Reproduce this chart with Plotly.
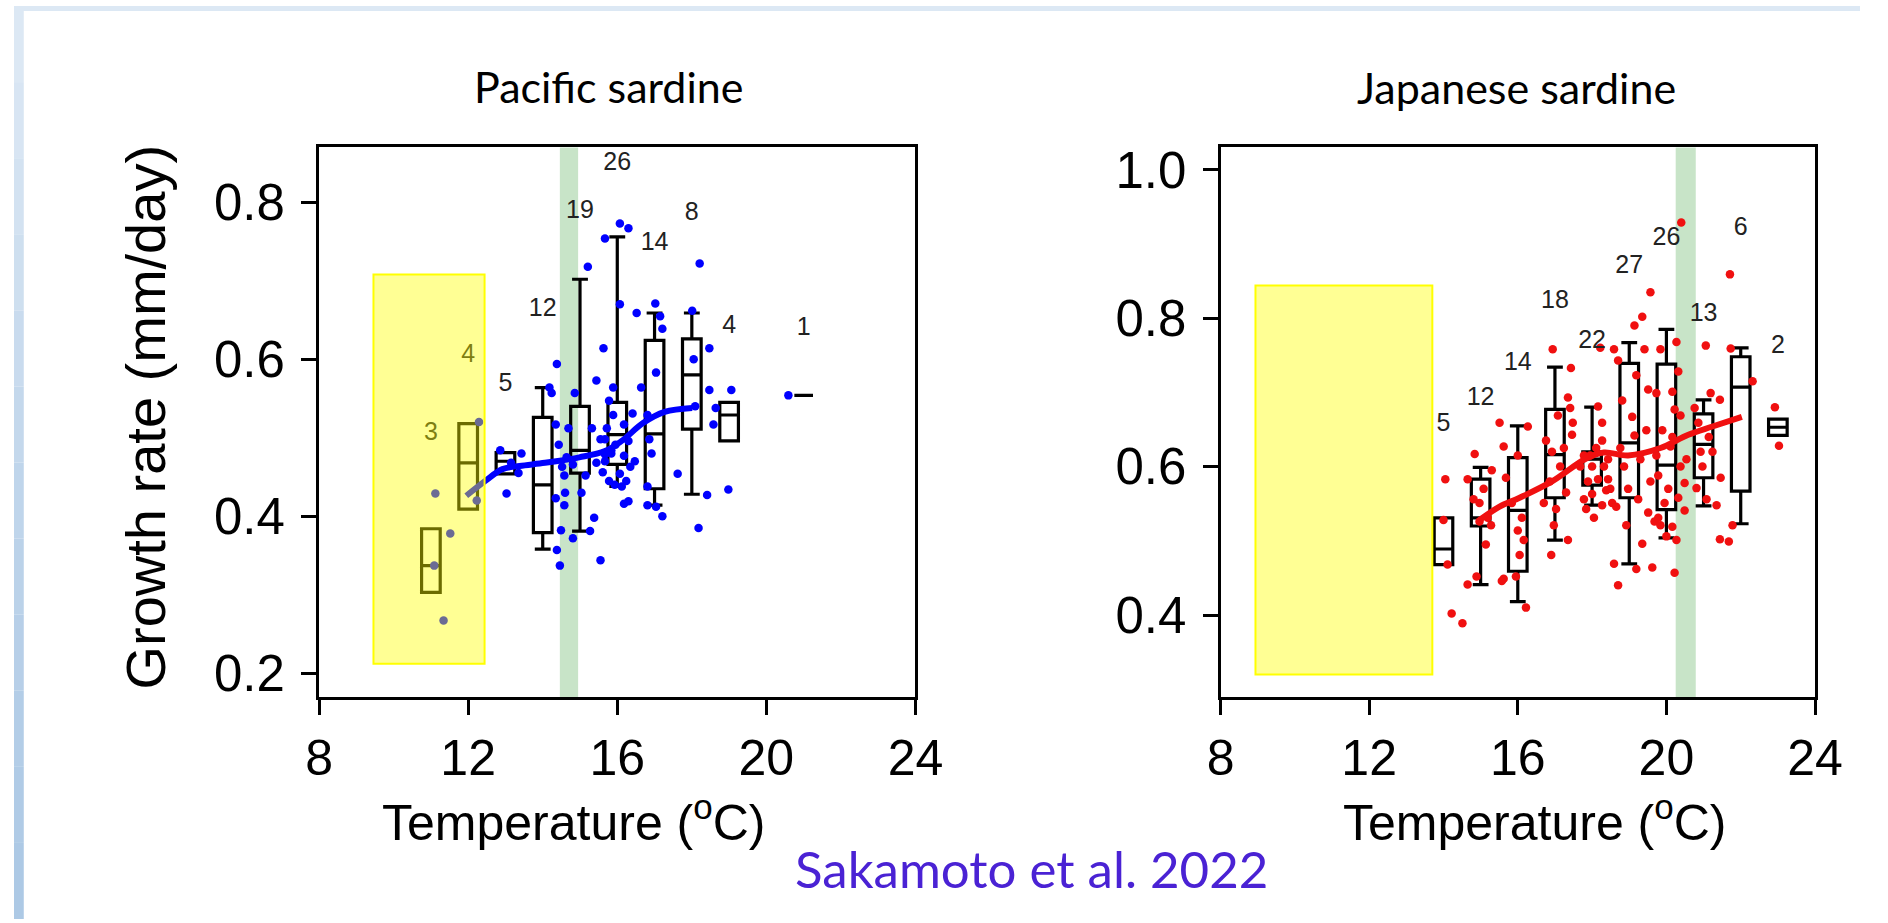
import plotly.graph_objects as go

W, H = 1888, 923

# ---------------- Pacific sardine (left) ----------------
box_x_p = [11, 12, 13, 14, 15, 16, 17, 18, 19, 21]
q1_p = [0.303, 0.409, 0.454, 0.379, 0.455, 0.466, 0.435, 0.511, 0.496, 0.554]
med_p = [0.337, 0.468, 0.470, 0.440, 0.484, 0.504, 0.505, 0.580, 0.529, 0.554]
q3_p = [0.384, 0.518, 0.481, 0.526, 0.540, 0.545, 0.624, 0.626, 0.545, 0.554]
lo_p = [0.303, 0.409, 0.454, 0.358, 0.381, 0.438, 0.414, 0.428, 0.496, 0.554]
hi_p = [0.384, 0.518, 0.481, 0.564, 0.702, 0.756, 0.659, 0.659, 0.545, 0.554]
n_p = ["3", "4", "5", "12", "19", "26", "14", "8", "4", "1"]
n_y_p = [0.505, 0.604, 0.567, 0.663, 0.788, 0.849, 0.747, 0.786, 0.641, 0.639]

pts_x_p = [
    11.12, 11.52, 11.34, 11.09,
    12.29, 12.23,
    12.86, 13.03, 13.43, 13.35, 13.15,
    14.18, 14.24, 14.38, 14.35, 14.43, 14.52, 14.58, 14.60, 14.35, 14.49, 14.38, 14.46,
    15.21, 15.63, 15.44, 14.86, 14.81, 15.38, 15.55, 15.27, 14.58, 14.69, 15.32, 15.55,
    15.67, 14.64, 14.81, 15.44, 15.15, 15.61, 15.04,
    16.07, 16.30, 15.67, 16.07, 15.89, 15.78, 15.89, 15.72, 16.18, 16.41, 15.67, 15.95,
    16.30, 15.84, 16.18, 15.67, 16.35, 16.07, 15.78, 16.24, 15.93, 16.12, 16.30, 15.84,
    16.47, 16.18,
    17.02, 16.52, 17.15, 17.21, 17.04, 16.64, 16.81, 16.86, 16.92, 16.81, 17.62, 17.04,
    17.21, 16.81,
    18.21, 18.47, 18.05, 18.47, 18.41, 18.18, 18.09, 18.01,
    19.06, 18.64, 18.58, 18.98,
    20.59,
]
pts_y_p = [
    0.429, 0.378, 0.267, 0.337,
    0.520, 0.420,
    0.484, 0.429, 0.480, 0.455, 0.468,
    0.564, 0.557, 0.594, 0.517, 0.491, 0.463, 0.452, 0.430, 0.423, 0.382, 0.357, 0.337,
    0.718, 0.614, 0.573, 0.557, 0.372, 0.398, 0.344, 0.381, 0.414, 0.512, 0.512, 0.498,
    0.479, 0.475, 0.466, 0.468, 0.452, 0.456, 0.430,
    0.773, 0.767, 0.754, 0.670, 0.564, 0.547, 0.529, 0.512, 0.517, 0.531, 0.498, 0.491,
    0.496, 0.480, 0.477, 0.470, 0.463, 0.454, 0.445, 0.445, 0.440, 0.438, 0.419, 0.484,
    0.470, 0.416,
    0.671, 0.659, 0.655, 0.639, 0.583, 0.564, 0.529, 0.498, 0.480, 0.438, 0.454, 0.412,
    0.400, 0.414,
    0.722, 0.614, 0.600, 0.561, 0.427, 0.385, 0.540, 0.662,
    0.561, 0.538, 0.517, 0.434,
    0.554,
]
fit_x_p = [11.95, 12.46, 12.92, 13.38, 14.06, 14.98, 15.67, 16.12, 16.70, 17.27, 18.01]
fit_y_p = [0.426, 0.445, 0.460, 0.464, 0.468, 0.475, 0.483, 0.496, 0.519, 0.533, 0.538]
yellow_x_p = [9.46, 12.44]
yellow_y_p = [0.212, 0.708]
green_x_p = [14.46, 14.95]

# ---------------- Japanese sardine (right) ----------------
box_x_j = [14, 15, 16, 17, 18, 19, 20, 21, 22, 23]
q1_j = [0.468, 0.520, 0.459, 0.558, 0.575, 0.558, 0.542, 0.585, 0.567, 0.642]
med_j = [0.489, 0.531, 0.541, 0.616, 0.610, 0.632, 0.602, 0.630, 0.707, 0.653]
q3_j = [0.531, 0.583, 0.612, 0.677, 0.620, 0.739, 0.738, 0.671, 0.748, 0.664]
lo_j = [0.468, 0.441, 0.418, 0.501, 0.548, 0.469, 0.504, 0.547, 0.523, 0.642]
hi_j = [0.531, 0.599, 0.655, 0.734, 0.680, 0.767, 0.785, 0.690, 0.760, 0.664]
n_j = ["5", "12", "14", "18", "22", "27", "26", "13", "6", "2"]
n_y_j = [0.657, 0.691, 0.739, 0.822, 0.768, 0.869, 0.907, 0.805, 0.920, 0.762]

pts_x_j = [
    14.05, 14.22, 14.51, 14.11, 14.00,
    14.84, 14.65, 14.65, 14.97, 15.14, 15.28, 14.97, 15.19, 14.81, 15.08, 15.30, 14.89,
    15.51, 16.27, 15.62, 16.00, 15.68, 16.11, 16.00, 16.05, 15.95, 15.62, 15.57, 16.22,
    15.84, 16.16,
    16.94, 17.43, 17.35, 17.41, 17.48, 17.46, 16.76, 16.92, 16.86, 17.03, 17.35, 16.90,
    17.14, 17.30, 16.70, 17.08, 17.24, 16.97,
    18.22, 18.16, 18.27, 17.78, 18.00, 18.16, 18.38, 18.05, 17.84, 18.27, 18.49, 17.89,
    18.32, 18.43, 17.68, 18.00, 18.54, 18.11, 17.78, 18.27, 18.43, 17.95,
    19.57, 19.35, 19.14, 18.59, 18.70, 19.19, 19.51, 18.81, 19.08, 19.14, 18.76, 18.97,
    19.35, 18.59, 18.70, 19.19, 19.62, 19.51, 19.68, 19.57, 19.30, 18.86, 19.46, 18.65,
    19.24, 18.92, 19.41,
    20.40, 20.27, 20.16, 20.22, 20.16, 20.54, 20.49, 19.78, 20.22, 19.84, 19.78, 20.16,
    19.95, 20.32, 20.05, 19.73, 20.38, 19.89, 20.32, 19.84, 20.49, 20.00, 20.27, 19.73,
    20.38, 20.11,
    21.06, 21.44, 21.14, 20.81, 21.46, 20.86, 20.97, 21.24, 20.76, 21.08, 21.35, 20.92,
    21.19,
    21.71, 21.73, 22.32, 21.78, 21.44, 21.68,
    22.92, 23.03,
]
pts_y_j = [
    0.583, 0.402, 0.389, 0.468, 0.528,
    0.617, 0.583, 0.441, 0.551, 0.495, 0.521, 0.526, 0.531, 0.556, 0.570, 0.595, 0.452,
    0.659, 0.654, 0.627, 0.615, 0.585, 0.531, 0.514, 0.481, 0.452, 0.449, 0.446, 0.410,
    0.551, 0.501,
    0.758, 0.733, 0.693, 0.679, 0.659, 0.643, 0.635, 0.620, 0.580, 0.543, 0.501, 0.481,
    0.600, 0.565, 0.551, 0.669, 0.625, 0.521,
    0.760, 0.681, 0.635, 0.615, 0.600, 0.583, 0.568, 0.531, 0.543, 0.548, 0.570, 0.580,
    0.600, 0.610, 0.600, 0.563, 0.551, 0.625, 0.556, 0.659, 0.583, 0.615,
    0.835, 0.802, 0.790, 0.758, 0.743, 0.723, 0.704, 0.689, 0.667, 0.642, 0.625, 0.570,
    0.496, 0.469, 0.440, 0.462, 0.464, 0.538, 0.526, 0.580, 0.610, 0.600, 0.649, 0.546,
    0.556, 0.521, 0.758,
    0.929, 0.768, 0.701, 0.677, 0.640, 0.610, 0.578, 0.531, 0.457, 0.521, 0.588, 0.519,
    0.551, 0.558, 0.570, 0.615, 0.600, 0.649, 0.728, 0.758, 0.541, 0.506, 0.501, 0.699,
    0.669, 0.627,
    0.763, 0.690, 0.640, 0.571, 0.585, 0.659, 0.600, 0.620, 0.679, 0.556, 0.548, 0.620,
    0.699,
    0.859, 0.759, 0.715, 0.521, 0.502, 0.499,
    0.680, 0.628,
]
fit_x_j = [14.97, 15.51, 16.05, 16.92, 17.84, 18.32, 18.97, 19.84, 20.59, 21.24, 22.03]
fit_y_j = [0.528, 0.546, 0.558, 0.580, 0.611, 0.619, 0.615, 0.625, 0.643, 0.654, 0.667]
yellow_x_j = [8.94, 13.70]
yellow_y_j = [0.320, 0.844]
green_x_j = [20.25, 20.79]

x_ticks = [8, 12, 16, 20, 24]
y_ticks_p = [0.2, 0.4, 0.6, 0.8]
y_ticks_j = [0.4, 0.6, 0.8, 1.0]

fig = go.Figure()


def add_panel(xa, ya, bx, q1, med, q3, lo, hi, px, py, pcol, fx, fy, ntext, ny):
    fig.add_trace(go.Box(
        x=bx, q1=q1, median=med, q3=q3, lowerfence=lo, upperfence=hi,
        width=0.5, whiskerwidth=0.85, boxpoints=False,
        fillcolor="rgba(255,255,255,0)", line=dict(color="black", width=3.2),
        xaxis=xa, yaxis=ya, showlegend=False, hoverinfo="skip"))
    fig.add_trace(go.Scatter(
        x=px, y=py, mode="markers",
        marker=dict(color=pcol, size=8.5, line=dict(width=0)),
        xaxis=xa, yaxis=ya, showlegend=False))
    fig.add_trace(go.Scatter(
        x=fx, y=fy, mode="lines",
        line=dict(color=pcol, width=6, shape="spline"),
        xaxis=xa, yaxis=ya, showlegend=False))
    fig.add_trace(go.Scatter(
        x=bx, y=ny, mode="text", text=ntext,
        textfont=dict(family="Liberation Sans, Arial", size=25, color="#222222"),
        textposition="middle center",
        xaxis=xa, yaxis=ya, showlegend=False))


add_panel("x", "y", box_x_p, q1_p, med_p, q3_p, lo_p, hi_p, pts_x_p, pts_y_p,
          "#0000ff", fit_x_p, fit_y_p, n_p, n_y_p)
add_panel("x2", "y2", box_x_j, q1_j, med_j, q3_j, lo_j, hi_j, pts_x_j, pts_y_j,
          "#f01010", fit_x_j, fit_y_j, n_j, n_y_j)

shapes = []
# green bands (behind data)
for xr, xref, yref in [(green_x_p, "x", "y domain"), (green_x_j, "x2", "y2 domain")]:
    shapes.append(dict(type="rect", xref=xref, yref=yref, x0=xr[0], x1=xr[1], y0=0, y1=1,
                       fillcolor="rgba(110,185,110,0.38)", line=dict(width=0), layer="below"))
# yellow boxes (above data, translucent)
for xr, yr, xref, yref in [(yellow_x_p, yellow_y_p, "x", "y"), (yellow_x_j, yellow_y_j, "x2", "y2")]:
    shapes.append(dict(type="rect", xref=xref, yref=yref, x0=xr[0], x1=xr[1], y0=yr[0], y1=yr[1],
                       fillcolor="rgba(255,255,0,0.42)", line=dict(color="#ffff00", width=2),
                       layer="above"))
# slide background strips (left gradient + top)
strip_cols = ["#dce8f4", "#d8e5f3", "#d3e2f1", "#cedfef", "#c9dbee", "#c4d8ec",
              "#bfd5eb", "#bbd2e9", "#b7cfe8", "#b3cde7", "#b0cbe6", "#adc9e5"]
nb = len(strip_cols)
for i, c in enumerate(strip_cols):
    shapes.append(dict(type="rect", xref="paper", yref="paper", x0=0, x1=10 / W,
                       y0=1 - (i + 1) / nb, y1=1 - i / nb, fillcolor=c, line=dict(width=0),
                       layer="below"))
shapes.append(dict(type="rect", xref="paper", yref="paper", x0=0, x1=1, y0=1 - 5 / H, y1=1,
                   fillcolor="#dce8f4", line=dict(width=0), layer="below"))

axis_common = dict(showline=True, linecolor="black", linewidth=3, mirror=True,
                   ticks="outside", ticklen=15, tickwidth=2.5, tickcolor="black",
                   showgrid=False, zeroline=False)
xfont = dict(family="Liberation Sans, Arial", size=50, color="black")
yfont = dict(family="Liberation Sans, Arial", size=51, color="black")

ydom = [1 - 699 / H, 1 - 143 / H]
fig.update_layout(
    width=W, height=H, margin=dict(l=0, r=0, t=0, b=0),
    paper_bgcolor="white", plot_bgcolor="white", showlegend=False,
    shapes=shapes,
    xaxis=dict(domain=[312 / W, 922 / W], range=[8, 24], anchor="y",
               tickvals=x_ticks, ticktext=[str(v) for v in x_ticks], tickfont=xfont,
               **axis_common),
    yaxis=dict(domain=ydom, range=[0.169, 0.870], anchor="x",
               tickvals=y_ticks_p, ticktext=["%.1f" % v for v in y_ticks_p], tickfont=yfont,
               ticklabelstandoff=6, **axis_common),
    xaxis2=dict(domain=[1234 / W, 1842 / W], range=[8, 24], anchor="y2",
                tickvals=x_ticks, ticktext=[str(v) for v in x_ticks], tickfont=xfont,
                **axis_common),
    yaxis2=dict(domain=ydom, range=[0.289, 1.030], anchor="x2",
                tickvals=y_ticks_j, ticktext=["%.1f" % v for v in y_ticks_j], tickfont=yfont,
                ticklabelstandoff=6, **axis_common),
)

ann = [
    dict(text="Pacific sardine", x=608 / W, y=1 - 81 / H, font=dict(family="Lato", size=43, color="black")),
    dict(text="Japanese sardine", x=1537 / W, y=1 - 82 / H, font=dict(family="Lato", size=43, color="black")),
    dict(text="Temperature (<sup>o</sup>C)", x=572 / W, y=1 - 822 / H,
         font=dict(family="Liberation Sans, Arial", size=50, color="black")),
    dict(text="Temperature (<sup>o</sup>C)", x=1555 / W, y=1 - 822 / H,
         font=dict(family="Liberation Sans, Arial", size=50, color="black")),
    dict(text="Growth rate (mm/day)", x=134 / W, y=1 - 416 / H, textangle=-90,
         font=dict(family="Liberation Sans, Arial", size=56, color="black")),
    dict(text="Sakamoto et al. 2022", x=1041 / W, y=1 - 872 / H,
         font=dict(family="Lato", size=51, color="#4a22d4")),
]
for a in ann:
    a.update(xref="paper", yref="paper", showarrow=False, xanchor="center", yanchor="middle")
fig.update_layout(annotations=ann)

fig.write_html("out.html",
               post_script="document.body.style.margin='0px';document.body.style.overflow='hidden';")
